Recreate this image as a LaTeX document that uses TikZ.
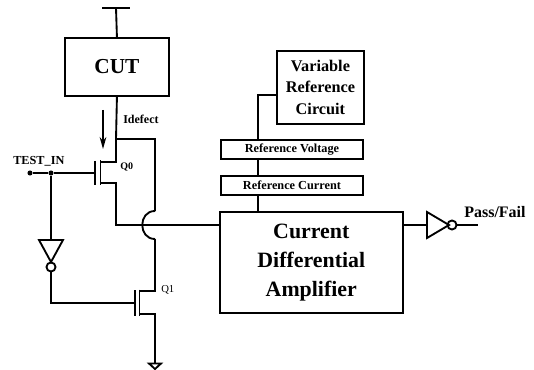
\documentclass[tikz,border=0pt]{standalone}
\usepackage{fontspec}
\usetikzlibrary{arrows.meta}
\setmainfont{Liberation Serif}
\begin{document}
\begin{tikzpicture}[x=0.75pt,y=-0.75pt,
  wire/.style={line width=1.4pt,line join=miter},
  blockbox/.style={draw,line width=1.4pt,inner sep=0pt,anchor=north west,align=center,font=\bfseries},
  lbl/.style={inner sep=0pt,font=\bfseries},
  gatefill/.style={draw,line width=1.4pt,line join=miter},
  bubble/.style={circle,draw,line width=1.4pt,minimum size=6.8pt,inner sep=0pt},
  dotnode/.style={circle,fill=black,minimum size=3.8pt,inner sep=0pt}]
\useasboundingbox (0,0) rectangle (534,370);
% blocks
\node[blockbox,minimum width=78pt,minimum height=43.5pt,font=\bfseries\fontsize{16}{18}\selectfont] (cut) at (64,37) {CUT};
\node[blockbox,minimum width=65.25pt,minimum height=54.75pt,font=\bfseries\fontsize{12.2}{16}\selectfont] (vrc) at (276,50) {Variable\\Reference\\Circuit};
\node[blockbox,minimum width=106.5pt,minimum height=14.25pt,font=\bfseries\fontsize{9.2}{11}\selectfont] (rv) at (220,139) {Reference Voltage};
\node[blockbox,minimum width=106.5pt,minimum height=14.25pt,font=\bfseries\fontsize{9.2}{11}\selectfont] (rc) at (220,175) {Reference Current};
\node[blockbox,minimum width=137pt,minimum height=75.5pt,font=\bfseries\fontsize{16.4}{21.7}\selectfont] (cda) at (219,211) {Current\\Differential\\Amplifier};
% labels
\node[lbl,font=\bfseries\fontsize{9}{11}\selectfont,anchor=west] (idef) at (123,119) {Idefect};
\node[lbl,font=\bfseries\fontsize{9.2}{11}\selectfont,anchor=west] (testin) at (13,161) {TEST\_IN};
\node[lbl,font=\bfseries\fontsize{7.5}{9}\selectfont,anchor=west] (q0) at (120,167) {Q0};
\node[lbl,font=\fontsize{8}{9}\selectfont,anchor=west] (q1) at (161,290) {Q1};
\node[lbl,font=\bfseries\fontsize{12}{14}\selectfont,anchor=west] (pf) at (464,212) {Pass/Fail};
% coordinates
\coordinate (vddL) at (102,8); \coordinate (vddR) at (130,8); \coordinate (vdd) at (116,8);
\coordinate (q0d) at (116,139); \coordinate (q0dr) at (155,139);
\coordinate (jmpA) at (155,211); \coordinate (jmpB) at (155,239);
\coordinate (q1d) at (155,291); \coordinate (q1s) at (155,314);
\coordinate (gndtop) at (155,363);
\coordinate (q0in) at (116,225);
\node[dotnode] (tin) at (30,173) {};
\node[dotnode] (tj) at (51,173) {};
\coordinate (q0g) at (95,173);
\coordinate (q1g) at (135,303);
\coordinate (invAin) at (51,240);
\node[bubble] (bubA) at (51,267) {};
\node[bubble] (bubB) at (452,225) {};
\coordinate (invBin) at (427,225);
\coordinate (pfEnd) at (478,225);
% supply
\draw[wire] (vddL) -- (vddR);
\draw[wire] (vdd) -- (cut.north);
% Q0
\draw[wire] (cut.south) -- (q0d) -- (q0dr) -- (jmpA);
\draw[wire] (jmpA) .. controls (138,211) and (138,239) .. (jmpB);
\draw[wire] (jmpB) -- (q1d) -- (139.5,291);
\draw[wire] (139.5,289.5) -- (139.5,315.5);
\draw[wire] (139.5,314) -- (q1s) -- (gndtop);
\draw[wire] (135,290) -- (135,316);
\draw[wire] (q0d) -- (116,162) -- (100.5,162);
\draw[wire] (100.5,160.5) -- (100.5,184.5);
\draw[wire] (100.5,183) -- (116,183) -- (q0in) -- (cda.west |- q0in);
\draw[wire] (95,161) -- (95,185);
\draw[wire] (tin) -- (tj) -- (q0g);
\draw[wire] (tj) -- (invAin);
\draw[gatefill] (39,240) -- (63,240) -- (51,262) -- cycle;
\draw[wire] (bubA) -- (51,303) -- (q1g);
% ground
\draw[gatefill] (149,363.5) -- (161,363.5) -- (155,369) -- cycle;
% current arrow
\draw[wire,-{Stealth[length=9pt,width=5pt]}] (103,110) -- (103,149);
% references
\draw[wire] (vrc.west |- 0,95) -- (258,95) -- (258,139);
\draw[wire] (258,158) -- (258,175);
\draw[wire] (258,194) -- (258,211);
% output
\draw[wire] (cda.east |- invBin) -- (invBin);
\draw[gatefill] (427,212) -- (427,238) -- (449,225) -- cycle;
\draw[wire] (bubB) -- (pfEnd);
\end{tikzpicture}
\end{document}
